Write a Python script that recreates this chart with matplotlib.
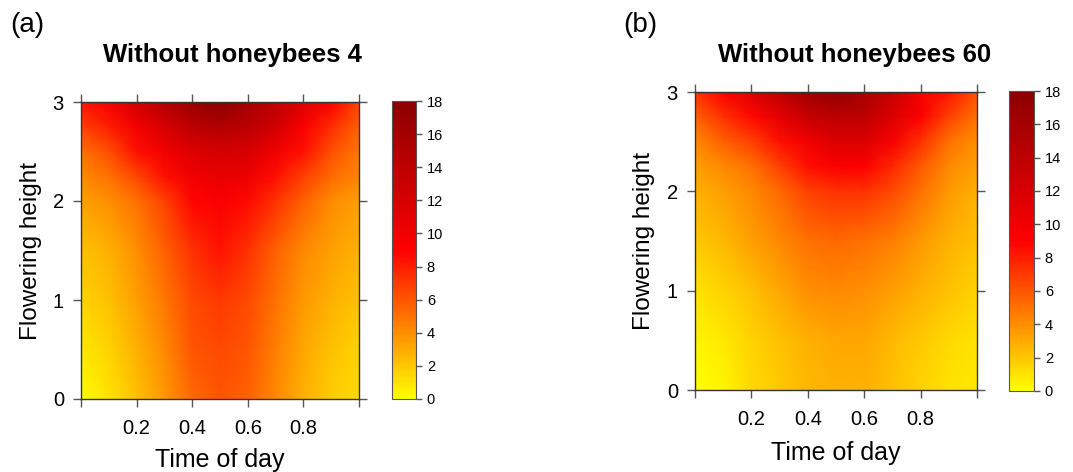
import numpy as np
import matplotlib
matplotlib.use('Agg')
import matplotlib.pyplot as plt
from matplotlib.colors import LinearSegmentedColormap

plt.rcParams['font.family'] = ['Liberation Sans', 'DejaVu Sans']

# grid
time_of_day = [0.0, 0.1, 0.2, 0.3, 0.4, 0.5, 0.6, 0.7, 0.8, 0.9, 1.0]
flower_height = [0.0, 0.5, 1.0, 1.5, 2.0, 2.25, 2.5, 2.75, 3.0]

# rows = flowering height (bottom -> top), columns = time of day
visits_4 = [
    [0.2, 1.0, 2.2, 3.6, 5.3, 6.0, 5.6, 4.2, 2.8, 1.8, 1.4],
    [0.8, 1.6, 2.8, 4.2, 6.0, 6.4, 6.0, 4.5, 3.1, 2.2, 1.6],
    [1.6, 2.2, 3.4, 4.8, 6.4, 7.0, 6.4, 5.0, 3.6, 2.8, 2.2],
    [2.2, 2.8, 4.0, 5.6, 7.3, 8.3, 7.3, 5.6, 4.2, 3.4, 2.8],
    [3.4, 4.0, 5.0, 6.7, 8.8, 9.4, 8.7, 7.3, 5.6, 4.1, 3.4],
    [4.2, 5.0, 6.5, 8.5, 10.0, 10.8, 10.3, 8.5, 6.8, 5.3, 4.3],
    [5.0, 6.2, 8.5, 10.0, 11.5, 12.2, 12.0, 10.0, 8.5, 6.2, 4.8],
    [6.7, 8.0, 9.8, 12.0, 14.2, 15.0, 14.2, 12.6, 9.3, 7.5, 5.6],
    [8.3, 9.5, 12.6, 14.8, 16.9, 18.0, 16.0, 14.0, 11.7, 9.2, 6.7],
]

visits_60 = [
    [0.0, 0.4, 1.4, 1.9, 2.5, 2.8, 2.8, 2.2, 1.6, 1.0, 0.8],
    [0.4, 0.8, 1.6, 2.2, 2.8, 3.1, 3.1, 2.5, 1.9, 1.4, 1.0],
    [1.0, 1.6, 2.2, 3.1, 4.0, 4.2, 4.0, 3.4, 2.8, 2.2, 1.6],
    [1.9, 2.5, 3.4, 4.2, 5.0, 5.3, 5.0, 4.5, 3.6, 2.8, 2.2],
    [2.8, 3.4, 4.2, 5.3, 6.7, 7.3, 7.3, 6.4, 5.0, 3.6, 2.8],
    [3.4, 4.2, 5.0, 6.7, 8.5, 9.3, 9.2, 7.6, 5.9, 4.2, 3.4],
    [4.2, 5.6, 6.7, 8.5, 10.0, 11.7, 11.7, 9.5, 7.3, 5.0, 4.0],
    [5.6, 7.3, 8.7, 11.0, 13.3, 14.2, 14.0, 11.7, 9.2, 6.7, 5.0],
    [7.3, 9.0, 11.7, 14.0, 16.4, 17.5, 15.8, 13.3, 10.0, 8.3, 6.2],
]

cbar_ticks = list(range(0, 19, 2))

cmap = LinearSegmentedColormap.from_list('yrd', ['#FFFF00', '#FF0000', '#8B0000'])

W, H = 1073, 472
fig = plt.figure(figsize=(W / 100, H / 100), dpi=100)


def px_rect(l, t, r, b):
    return [l / W, 1 - b / H, (r - l) / W, (b - t) / H]


def draw_panel(z, box, cbox, title, title_x, tag, tag_x, ylab_x, xlab_y):
    ax = fig.add_axes(px_rect(*box))
    mesh = ax.pcolormesh(time_of_day, flower_height, np.array(z),
                         shading='gouraud', cmap=cmap, vmin=0, vmax=18)
    ax.set_xlim(0, 1)
    ax.set_ylim(0, 3)
    ax.set_xticks([0, 0.2, 0.4, 0.6, 0.8, 1.0])
    ax.set_xticklabels(['', '0.2', '0.4', '0.6', '0.8', ''])
    ax.set_yticks([0, 1, 2, 3])
    ax.tick_params(direction='out', length=5.8, width=1, color='#555555',
                   top=True, right=True, labelsize=14.5)
    ax.tick_params(axis='x', pad=8.5)
    ax.tick_params(axis='y', pad=6.5)
    for s in ax.spines.values():
        s.set_color('#333333')
        s.set_linewidth(1)

    cax = fig.add_axes(px_rect(*cbox))
    cb = fig.colorbar(mesh, cax=cax, ticks=cbar_ticks)
    cb.ax.tick_params(length=4.3, width=1, color='#555555', labelsize=10.5, pad=3.5)
    cb.outline.set_edgecolor('#555555')

    cx = (box[0] + box[2]) / 2
    cy = (box[1] + box[3]) / 2
    fig.text(title_x / W, 1 - 55 / H, title, fontsize=18.5, fontweight='bold',
             ha='center', va='center')
    fig.text(tag_x / W, 1 - 25 / H, tag, fontsize=20, ha='center', va='center')
    fig.text(ylab_x / W, 1 - cy / H, 'Flowering height', rotation=90,
             fontsize=17.5, ha='center', va='center')
    fig.text(cx / W, 1 - xlab_y / H, 'Time of day', fontsize=18,
             ha='center', va='center')


draw_panel(visits_4, (81, 102, 359, 399), (392, 101, 416, 399),
           'Without honeybees 4', 232, '(a)', 27, 31, 460)
draw_panel(visits_60, (695, 92, 977, 390), (1009, 91, 1034, 391),
           'Without honeybees 60', 855, '(b)', 640, 644, 453)

fig.savefig('out.png', dpi=100)
